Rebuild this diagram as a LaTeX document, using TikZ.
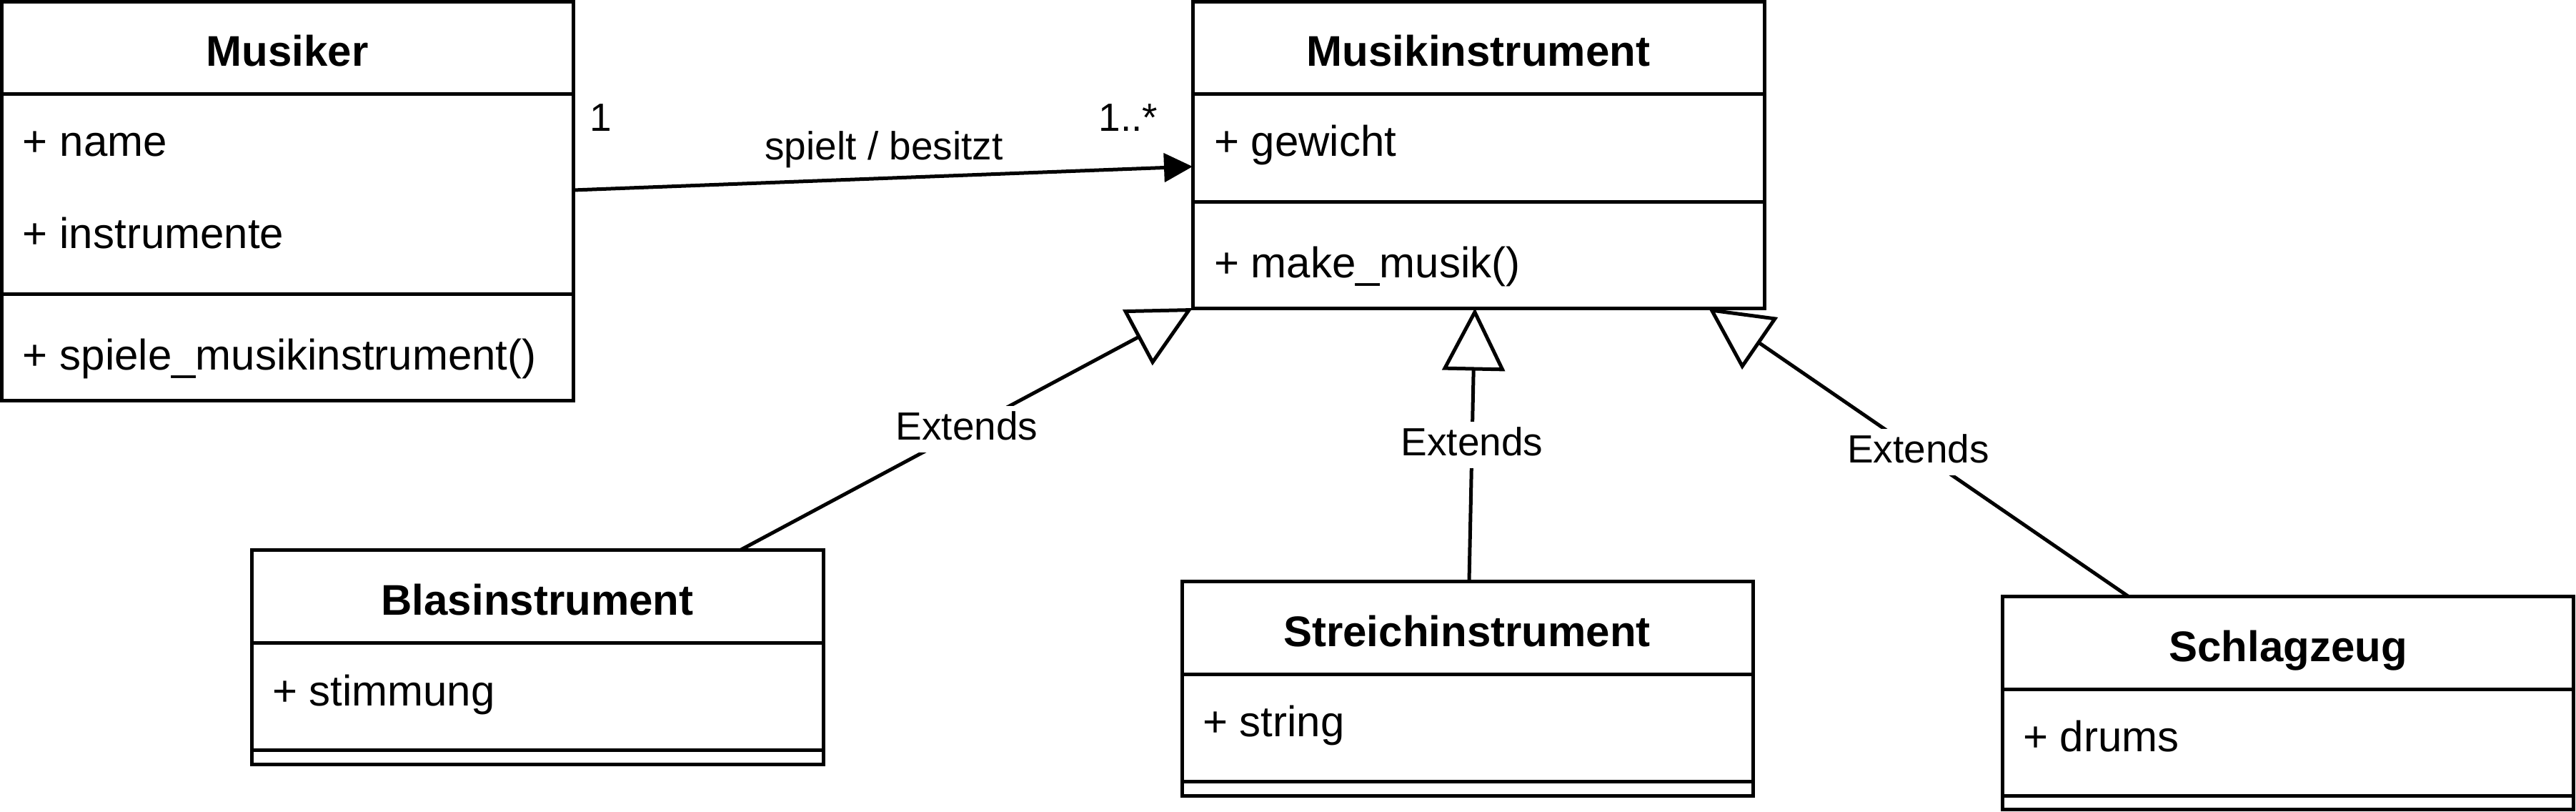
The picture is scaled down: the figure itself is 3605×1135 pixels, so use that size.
\documentclass[tikz,border=0pt]{standalone}
\usepackage{fontspec}
\setmainfont{Liberation Sans}
\usetikzlibrary{arrows.meta,fit}
\begin{document}
\begin{tikzpicture}[x=0.2pt,y=-0.2pt,
  classbox/.style={draw, line width=1pt, inner sep=0pt, outer sep=0pt},
  sepline/.style={line width=1pt},
  classtitle/.style={font=\bfseries\fontsize{12}{14}\selectfont, anchor=base, inner sep=0pt},
  member/.style={font=\fontsize{12}{14}\selectfont, anchor=base west, inner sep=0pt},
  assoc/.style={line width=1pt, -{Triangle[length=8pt,width=8pt]}},
  extends/.style={line width=1pt, -{Triangle[open,length=17.5pt,width=17.5pt]}},
  elabel/.style={font=\fontsize{11}{13}\selectfont, fill=white, inner sep=1pt, text height=8.5pt, text depth=2.5pt},
  mult/.style={font=\fontsize{11}{13}\selectfont, inner sep=0pt}
]
\useasboundingbox (0,0) rectangle (3605,1135);

% ---- Musiker
\node[classbox, fit={(2.5,2.5)(802,560)}] (musiker) {};
\draw[sepline] (musiker.west |- 0,131) -- (musiker.east |- 0,131);
\draw[sepline] (musiker.west |- 0,411) -- (musiker.east |- 0,411);
\node[classtitle] (musikerT) at (402,92) {Musiker};
\node[member] (musikerA1) at (31,218) {+ name};
\node[member] (musikerA2) at (31,347) {+ instrumente};
\node[member] (musikerM1) at (31,517) {+ spiele\_musikinstrument()};

% ---- Musikinstrument
\node[classbox, fit={(1669,2.5)(2469,431)}] (minst) {};
\draw[sepline] (minst.west |- 0,131) -- (minst.east |- 0,131);
\draw[sepline] (minst.west |- 0,282) -- (minst.east |- 0,282);
\node[classtitle] (minstT) at (2069,92) {Musikinstrument};
\node[member] (minstA1) at (1698,218) {+ gewicht};
\node[member] (minstM1) at (1698,388) {+ make\_musik()};

% ---- Blasinstrument
\node[classbox, fit={(352,769)(1152,1069)}] (blas) {};
\draw[sepline] (blas.west |- 0,899) -- (blas.east |- 0,899);
\draw[sepline] (blas.west |- 0,1049) -- (blas.east |- 0,1049);
\node[classtitle] (blasT) at (752,860) {Blasinstrument};
\node[member] (blasA1) at (380,987) {+ stimmung};

% ---- Streichinstrument
\node[classbox, fit={(1654,813)(2453,1113)}] (streich) {};
\draw[sepline] (streich.west |- 0,943) -- (streich.east |- 0,943);
\draw[sepline] (streich.west |- 0,1093) -- (streich.east |- 0,1093);
\node[classtitle] (streichT) at (2053,904) {Streichinstrument};
\node[member] (streichA1) at (1682,1030) {+ string};

% ---- Schlagzeug
\node[classbox, fit={(2802,834)(3601,1132)}] (schlag) {};
\draw[sepline] (schlag.west |- 0,964) -- (schlag.east |- 0,964);
\draw[sepline] (schlag.west |- 0,1113) -- (schlag.east |- 0,1113);
\node[classtitle] (schlagT) at (3202,925) {Schlagzeug};
\node[member] (schlagA1) at (2830,1051) {+ drums};

% ---- association
\coordinate (as) at (musiker.east |- 0,266);
\coordinate (at) at (minst.west |- 0,233);
\draw[assoc] (as) -- (at);
\node[mult, anchor=base west] (m1) at (824,183) {1};
\node[mult, anchor=base east] (m2) at (1621,183) {1..*};
\node[mult, anchor=base] (rel) at (1237,223) {spielt / besitzt};

% ---- generalisations
\coordinate (e1s) at (blas.north -| 1037,0);
\coordinate (e1t) at (minst.south west);
\draw[extends] (e1s) -- node[elabel] (x1) {Extends} (e1t);

\coordinate (e2s) at (streich.north -| 2056,0);
\coordinate (e2t) at (minst.south -| 2064,0);
\draw[extends] (e2s) -- node[elabel] (x2) {Extends} (e2t);

\coordinate (e3s) at (schlag.north -| 2978,0);
\coordinate (e3t) at (minst.south -| 2391,0);
\draw[extends] (e3s) -- node[elabel] (x3) {Extends} (e3t);
\end{tikzpicture}
\end{document}
